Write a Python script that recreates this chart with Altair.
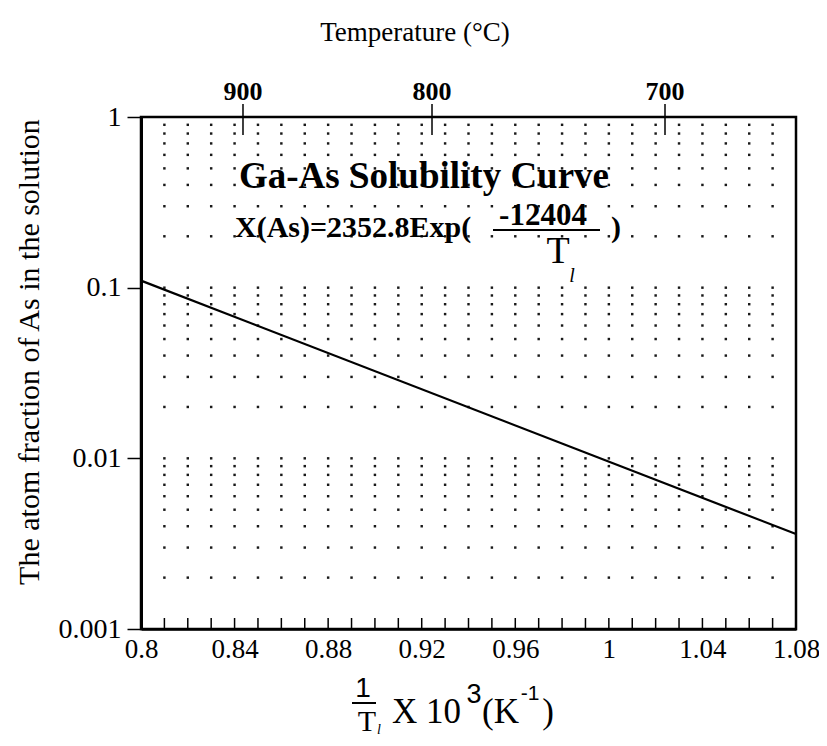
import altair as alt
import pandas as pd

# ---- data ----
line_x = [0.80, 1.08]
line_y = [0.11, 0.0036]

x_labels = [0.80, 0.84, 0.88, 0.92, 0.96, 1.00, 1.04, 1.08]
y_labels = [1, 0.1, 0.01, 0.001]
minor_x = [round(0.81 + 0.01 * i, 2) for i in range(27)]
grid_y = [k * 10.0 ** d for d in (-3, -2, -1) for k in range(1, 10) if not (d == -3 and k == 1)]

temp_labels = ["900", "800", "700"]
temp_pos = [0.8436, 0.9244, 1.024]

W, H = 655, 512
SERIF = "Liberation Serif"
SANS = "Liberation Sans"

xs = alt.Scale(domain=[0.8, 1.08], nice=False, zero=False)
ys = alt.Scale(type="log", domain=[0.001, 1], nice=False)

X_AX = alt.Axis(values=x_labels, title=None, ticks=False, grid=False, labelFont=SERIF,
                labelFontSize=27, labelColor="black", labelPadding=7, format="~g",
                domainColor="black", domainWidth=2.5, labelFlush=False)
Y_AX = alt.Axis(values=y_labels, format="~g", grid=False, tickSize=14, tickWidth=1.5,
                tickColor="black", labelFont=SERIF, labelFontSize=28, labelColor="black",
                labelPadding=6, domainColor="black", domainWidth=3, title=None)

grid_df = pd.DataFrame([(x, y) for x in minor_x for y in grid_y], columns=["x", "y"])
dots = alt.Chart(grid_df).mark_square(size=6, color="black", opacity=0.9).encode(
    x=alt.X("x:Q", scale=xs, axis=X_AX),
    y=alt.Y("y:Q", scale=ys, axis=Y_AX),
)

minor_df = pd.DataFrame({"x": minor_x})
minor_ticks = alt.Chart(minor_df).mark_rule(color="black", strokeWidth=1.5).encode(
    x=alt.X("x:Q", scale=xs, axis=X_AX), y=alt.value(H), y2=alt.value(H - 11))

line_df = pd.DataFrame({"x": line_x, "y": line_y})
curve = alt.Chart(line_df).mark_line(color="black", strokeWidth=2.2).encode(
    x=alt.X("x:Q", scale=xs, axis=X_AX), y=alt.Y("y:Q", scale=ys, axis=Y_AX))

temp_df = pd.DataFrame({"x": temp_pos, "t": temp_labels})
top_ticks = alt.Chart(temp_df).mark_rule(color="black", strokeWidth=1.5).encode(
    x=alt.X("x:Q", scale=xs, axis=X_AX), y=alt.value(-13), y2=alt.value(18))
top_labels = alt.Chart(temp_df).mark_text(
    font=SERIF, fontSize=26, fontWeight="bold", baseline="alphabetic").encode(
    x=alt.X("x:Q", scale=xs, axis=X_AX), y=alt.value(-17), text="t:N")


def txt(s, x, y, size, weight="normal", style="normal", font=SERIF, align="center",
        baseline="alphabetic", angle=0):
    return alt.Chart(pd.DataFrame({"t": [s]})).mark_text(
        font=font, fontSize=size, fontWeight=weight, fontStyle=style, angle=angle,
        align=align, baseline=baseline, color="black").encode(
        x=alt.value(x), y=alt.value(y), text="t:N")


def hbar(x1, x2, y, w=1.8):
    return alt.Chart(pd.DataFrame({"a": [0]})).mark_rule(color="black", strokeWidth=w).encode(
        x=alt.value(x1), x2=alt.value(x2), y=alt.value(y))


ox, oy = 141, 117  # page position of plot origin
annots = [
    txt("Temperature (°C)", 415 - ox, 33 - oy, 27, baseline="middle"),
    txt("The atom fraction of As in the solution", 30 - ox, 352 - oy, 30,
        baseline="middle", angle=270),
    txt("Ga-As Solubility Curve", 424 - ox, 188 - oy, 37, weight="bold"),
    txt("X(As)=2352.8Exp(", 235 - ox, 237 - oy, 30, weight="bold", align="left"),
    txt("-12404", 543 - ox, 225 - oy, 31, weight="bold"),
    hbar(493 - ox, 600 - ox, 230 - oy, 2),
    txt("T", 558 - ox, 263 - oy, 38),
    txt("l", 572 - ox, 282 - oy, 20, style="italic"),
    txt(")", 616 - ox, 237 - oy, 30, weight="bold"),
    # bottom axis title
    txt("1", 363 - ox, 697 - oy, 28, font=SANS),
    hbar(352 - ox, 376 - ox, 703 - oy, 2),
    txt("T", 367 - ox, 731 - oy, 30),
    txt("l", 379 - ox, 734 - oy, 14, style="italic"),
    txt("X 10", 392 - ox, 723 - oy, 35, align="left"),
    txt("3", 474 - ox, 703 - oy, 27, font=SANS),
    txt("(K", 482 - ox, 723 - oy, 35, align="left"),
    txt("-1", 530 - ox, 700 - oy, 21, font=SANS),
    txt(")", 548 - ox, 723 - oy, 35),
]

chart = alt.layer(dots, minor_ticks, curve, top_ticks, top_labels, *annots).properties(
    width=W, height=H,
    autosize=alt.AutoSizeParams(type="none"),
    padding={"left": 133, "top": 109, "right": 23, "bottom": 109},
    background="white",
).configure_view(stroke="black", strokeWidth=2.5)

chart.save("out.html", embed_options={"renderer": "svg", "actions": False})
